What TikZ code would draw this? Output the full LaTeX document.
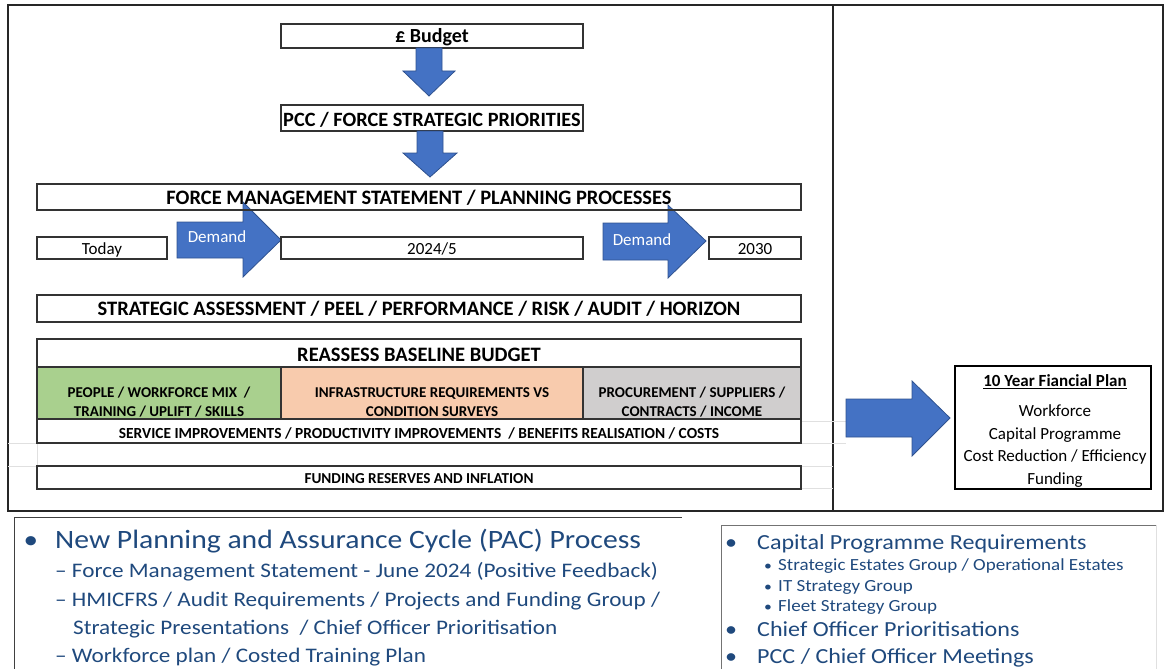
\documentclass[tikz,border=0pt]{standalone}
\usepackage{fontspec}
\setmainfont{Carlito}
\newfontfamily\slidefont[FakeStretch=1.12]{Carlito}
\usetikzlibrary{positioning}
\definecolor{arrowblue}{HTML}{4472C4}
\definecolor{arrowedge}{HTML}{2F528F}
\definecolor{peoplegreen}{HTML}{A9D08E}
\definecolor{infraorange}{HTML}{F8CBAD}
\definecolor{procgray}{HTML}{D0CECE}
\definecolor{slideblue}{HTML}{1F497D}
\definecolor{gridgray}{HTML}{E0E0E0}
\newcommand{\fs}[1]{\fontsize{#1}{1.2\dimexpr #1pt\relax}\selectfont}

\begin{document}
\begin{tikzpicture}[x=1pt,y=-1pt,
  box/.style={draw=black!80, line width=1.2pt, inner sep=0pt, text height=15pt, text depth=0pt},
  head/.style={font=\bfseries\fs{20.5}},
  yearbox/.style={box, minimum height=22pt, font=\fs{17}, text height=13pt},
  cell/.style={box, minimum height=52pt},
  celltext/.style={align=center, font=\bfseries\fontsize{15}{18.7}\selectfont},
  blk/.style={fill=arrowblue, draw=arrowedge, line width=0.8pt},
  slide/.style={anchor=base west, inner sep=0pt, text=slideblue},
  dot/.style={anchor=base, inner sep=0pt, text=slideblue}]
\useasboundingbox (0,0) rectangle (1167,669);

%Frames
\draw[line width=1.3pt, black!85] (8,5) rectangle (1163,511);
\draw[line width=1.3pt, black!85] (833,5) -- (833,511);
\draw[gridgray, line width=1pt] (8,443) -- (37,443) (8,466) -- (37,466) (37,443) -- (37,466);
\draw[gridgray, line width=1pt] (801,421) -- (846,421) (801,443) -- (846,443)
  (801,466) -- (833,466) (801,488) -- (833,488);

%Demand arrows (under the boxes)
\filldraw[blk] (177,222) -- (243,222) -- (243,202) -- (281,240) -- (243,277) -- (243,258) -- (177,258) -- cycle;
\filldraw[blk] (603,223) -- (668,223) -- (668,205) -- (706,241) -- (668,278) -- (668,260) -- (603,260) -- cycle;
\node[text=white, font=\fs{17}] (demandA) at (217,237) {Demand};
\node[text=white, font=\fs{17}] (demandB) at (642,240) {Demand};

%Boxes
\node[box, head, font=\bfseries\fs{20}, text height=13.9pt, minimum width=302pt, minimum height=24pt] (budget) at (432,36) {£ Budget};
\node[box, head, font=\bfseries\fs{20.3}, text height=16pt, minimum width=302pt, minimum height=26pt] (prio) at (432,118) {PCC / FORCE STRATEGIC PRIORITIES};
\node[box, head, text height=15.8pt, minimum width=764pt, minimum height=26pt] (fms) at (419,197) {FORCE MANAGEMENT STATEMENT / PLANNING PROCESSES};
\node[yearbox, minimum width=130pt] (today) at (102,248) {Today};
\node[yearbox, minimum width=302pt] (midterm) at (432,248) {2024/5};
\node[yearbox, minimum width=92pt] (longterm) at (755,248) {2030};
\node[box, head, text height=14.6pt, minimum width=764pt, minimum height=27pt] (assess) at (419,308.5)
  {STRATEGIC ASSESSMENT / PEEL / PERFORMANCE / RISK / AUDIT / HORIZON};
\node[box, head, text height=17.8pt, minimum width=764pt, minimum height=28pt] (baseline) at (419,353) {REASSESS BASELINE BUDGET};

%Cells
\node[cell, fill=peoplegreen, minimum width=244pt] (people) at (159,393) {};
\node[cell, fill=infraorange, minimum width=302pt] (infra) at (432,393) {};
\node[cell, fill=procgray, minimum width=218pt] (procure) at (692,393) {};
\node[celltext] (peopletxt) at (159,402) {PEOPLE / WORKFORCE MIX~ /\\TRAINING / UPLIFT / SKILLS};
\node[celltext] (infratxt) at (432,402) {INFRASTRUCTURE REQUIREMENTS VS\\CONDITION SURVEYS};
\node[celltext] (proctxt) at (692,402) {PROCUREMENT / SUPPLIERS /\\CONTRACTS / INCOME};
\node[box, text height=14.9pt, font=\bfseries\fs{15.4}, minimum width=764pt, minimum height=24pt] (service) at (419,431)
  {SERVICE IMPROVEMENTS / PRODUCTIVITY IMPROVEMENTS~ / BENEFITS REALISATION / COSTS};
\node[box, text height=11.4pt, font=\bfseries\fs{15.2}, minimum width=764pt, minimum height=23pt] (funding) at (419,477.5)
  {FUNDING RESERVES AND INFLATION};

%Down arrows
\filldraw[blk] (416,48) -- (442,48) -- (442,71) -- (455,71) -- (429,96) -- (403,71) -- (416,71) -- cycle;
\filldraw[blk] (417,131) -- (443,131) -- (443,153) -- (457,153) -- (430,177) -- (403,153) -- (417,153) -- cycle;

%Plan
\filldraw[blk] (846,399) -- (912,399) -- (912,381) -- (950,418) -- (912,456) -- (912,437) -- (846,437) -- cycle;
\node[draw=black, line width=1.6pt, minimum width=196pt, minimum height=123pt] (plan) at (1053,427.5) {};
\node[font=\bfseries\fs{17}] (plantitle) at (1055,381.5) {\underline{10 Year Fiancial Plan}};
\node[align=center, font=\fontsize{17}{22.7}\selectfont, below=9pt of plantitle] (planlist)
  {Workforce\\Capital Programme\\Cost Reduction / Efficiency\\Funding};

%Slide text, left
\draw[black!75, line width=1pt] (14,669) -- (14,517) -- (682,517);
\node[dot, font=\slidefont\fs{26}] (pacdot) at (31,548) {•};
\node[slide, font=\slidefont\fs{26.5}] (pac) at (55,548) {New Planning and Assurance Cycle (PAC) Process};
\node[slide, font=\slidefont\fs{20.7}] (fmsitem) at (55,577) {– Force Management Statement - June 2024 (Positive Feedback)};
\node[slide, font=\slidefont\fs{20.7}] (auditem) at (55,606) {– HMICFRS / Audit Requirements / Projects and Funding Group /};
\node[slide, font=\slidefont\fs{20.7}] (auditcont) at (73,634) {Strategic Presentations~ / Chief Officer Prioritisation};
\node[slide, font=\slidefont\fs{20.7}] (workitem) at (55,662) {– Workforce plan / Costed Training Plan};

%Slide text, right
\draw[black!55, line width=1pt] (721,669) -- (721,525) -- (1156,525);
\draw[gridgray, line width=1pt] (1156,525) -- (1156,669);
\node[dot, font=\slidefont\fs{21.5}] (capdot) at (731,549) {•};
\node[slide, font=\slidefont\fs{21.5}] (capital) at (757,549) {Capital Programme Requirements};
\node[dot, font=\slidefont\fs{14}] (estdot) at (768,570) {•};
\node[slide, font=\slidefont\fs{17}] (estates) at (778,570) {Strategic Estates Group / Operational Estates};
\node[dot, font=\slidefont\fs{14}] (itdot) at (768,591) {•};
\node[slide, font=\slidefont\fs{17}] (itgroup) at (778,591) {IT Strategy Group};
\node[dot, font=\slidefont\fs{14}] (fleetdot) at (768,611) {•};
\node[slide, font=\slidefont\fs{17}] (fleet) at (778,611) {Fleet Strategy Group};
\node[dot, font=\slidefont\fs{21.5}] (chiefdot) at (731,636) {•};
\node[slide, font=\slidefont\fs{21.5}] (chief) at (757,636) {Chief Officer Prioritisations};
\node[dot, font=\slidefont\fs{21.5}] (meetdot) at (731,663) {•};
\node[slide, font=\slidefont\fs{21.5}] (meet) at (757,663) {PCC / Chief Officer Meetings};

\end{tikzpicture}
\end{document}
